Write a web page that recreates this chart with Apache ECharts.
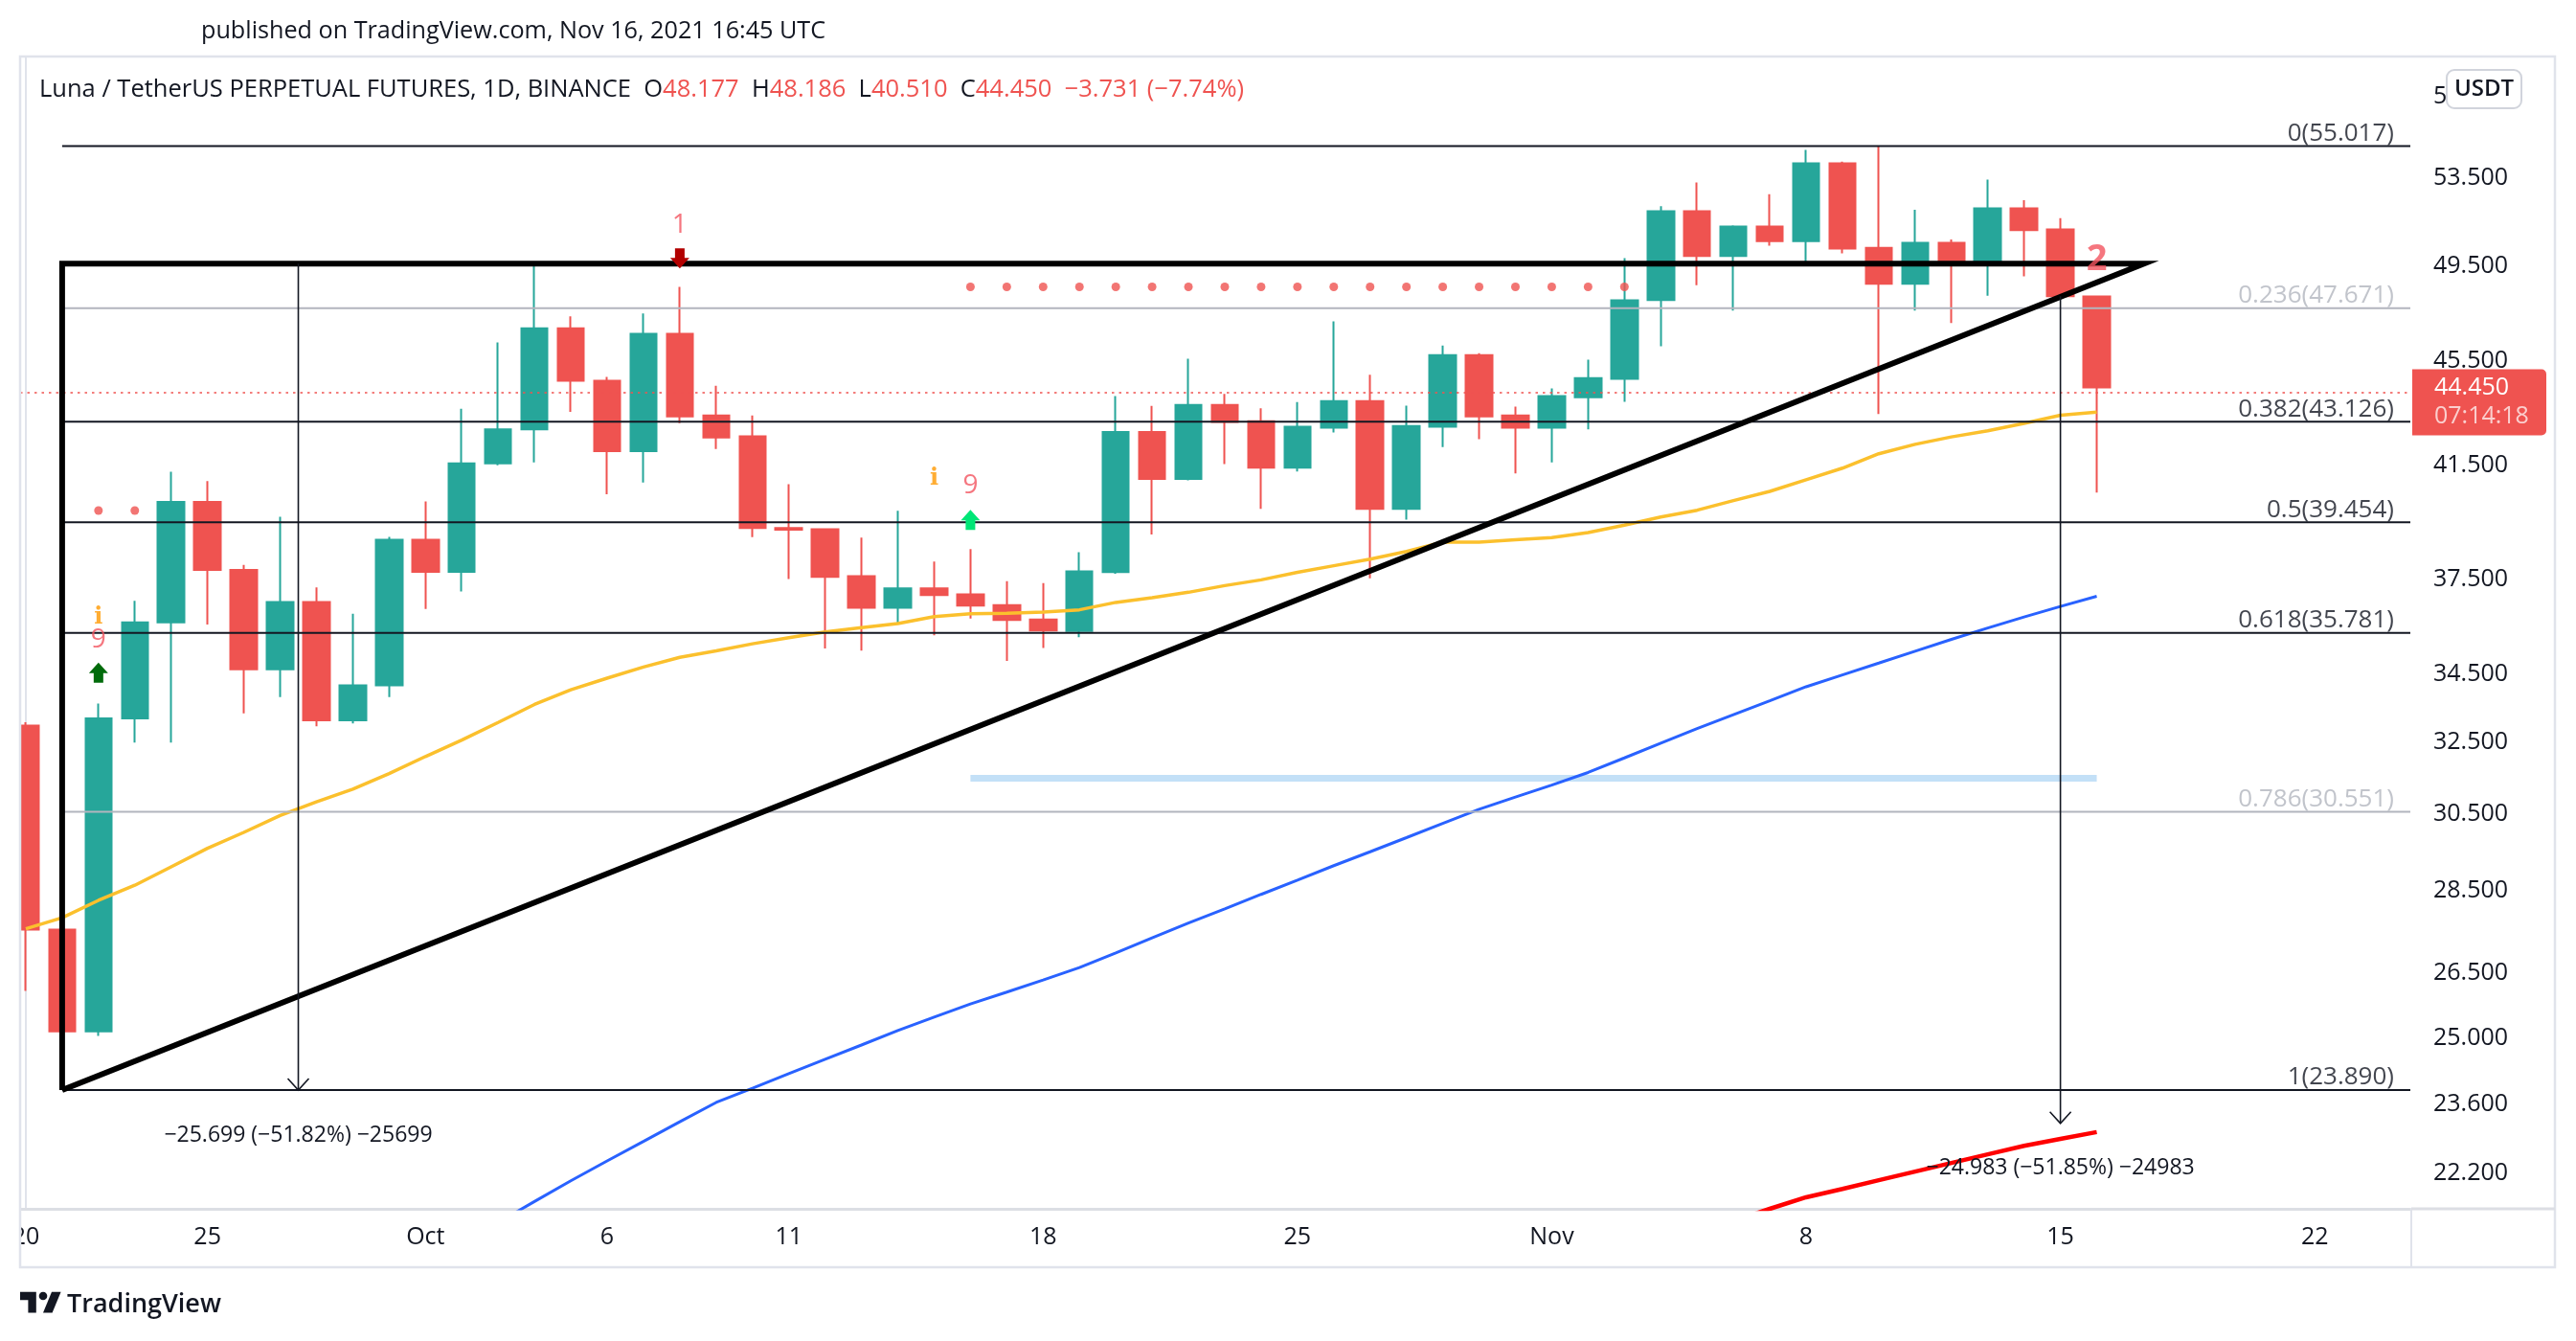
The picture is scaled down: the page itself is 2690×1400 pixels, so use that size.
<!DOCTYPE html>
<html><head><meta charset="utf-8">
<script src="https://cdn.jsdelivr.net/npm/echarts@6/dist/echarts.min.js"></script>
<style>html,body{margin:0;padding:0;background:#fff}#c{width:2690px;height:1400px}</style>
</head><body><div id="c"></div>
<script>
// ---------------- DATA ----------------
const dates = ['2021-09-20','2021-09-21','2021-09-22','2021-09-23','2021-09-24','2021-09-25','2021-09-26','2021-09-27','2021-09-28','2021-09-29','2021-09-30',
 '2021-10-01','2021-10-02','2021-10-03','2021-10-04','2021-10-05','2021-10-06','2021-10-07','2021-10-08','2021-10-09','2021-10-10',
 '2021-10-11','2021-10-12','2021-10-13','2021-10-14','2021-10-15','2021-10-16','2021-10-17','2021-10-18','2021-10-19','2021-10-20',
 '2021-10-21','2021-10-22','2021-10-23','2021-10-24','2021-10-25','2021-10-26','2021-10-27','2021-10-28','2021-10-29','2021-10-30','2021-10-31',
 '2021-11-01','2021-11-02','2021-11-03','2021-11-04','2021-11-05','2021-11-06','2021-11-07','2021-11-08','2021-11-09','2021-11-10',
 '2021-11-11','2021-11-12','2021-11-13','2021-11-14','2021-11-15','2021-11-16'];
const open = [32.97,27.53,25.16,33.18,36.12,40.17,37.83,34.65,36.77,33.12,34.16,
 38.85,37.77,41.57,42.83,46.84,44.71,42.02,46.61,43.36,42.57,
 39.26,39.22,37.62,36.59,37.22,37.02,36.67,36.21,35.84,37.76,
 42.73,41.00,43.77,43.14,41.41,42.90,43.92,39.93,42.93,45.74,43.36,
 42.90,44.07,44.79,48.02,51.94,49.93,51.24,50.59,54.19,50.29,48.72,50.51,49.55,52.07,51.11,48.177];
const high = [33.07,29.54,33.62,36.81,41.26,40.92,38.00,39.65,37.25,36.39,38.95,
 40.19,43.62,46.25,49.56,47.33,44.87,47.45,48.58,44.52,43.36,
 40.81,39.25,38.93,39.86,38.11,38.53,37.46,37.39,38.43,44.11,
 43.73,45.59,44.20,43.64,43.88,47.12,44.95,43.74,46.13,45.82,43.70,
 44.41,45.55,49.83,52.17,53.28,51.30,52.73,54.83,54.27,55.017,52.01,50.66,53.41,52.45,51.62,48.186];
const low = [26.08,23.89,25.06,32.48,32.48,36.05,33.33,33.81,32.95,33.03,33.81,
 36.55,37.12,41.50,41.60,43.50,40.45,40.87,43.07,42.10,38.94,
 37.53,35.29,35.23,36.11,35.71,36.24,34.91,35.31,35.65,37.70,
 39.03,40.95,41.54,39.93,41.27,42.72,37.55,39.55,42.17,42.46,41.20,
 41.60,42.83,43.89,46.10,48.65,47.57,50.38,49.68,50.04,43.42,47.57,47.05,48.20,49.04,48.06,40.51];
const close = [27.53,25.16,33.18,36.12,40.17,37.83,34.65,36.77,33.12,34.16,38.85,
 37.77,41.57,42.83,46.84,44.71,42.02,46.61,43.33,42.53,39.26,
 39.20,37.60,36.59,37.22,37.00,36.66,36.19,35.86,37.78,42.73,
 41.00,43.77,43.12,41.41,42.93,43.92,39.93,42.96,45.74,43.33,42.90,
 44.11,44.82,48.01,51.94,49.93,51.24,50.59,54.19,50.25,48.72,50.51,49.55,52.07,51.08,48.181,44.45];

// moving averages (yellow from first date, blue and red from their start dates)
const maYellow = [27.55,27.82,28.25,28.63,29.10,29.58,30.00,30.45,30.82,31.17,31.60,
 32.08,32.55,33.06,33.59,34.03,34.38,34.72,35.02,35.22,35.44,
 35.63,35.81,35.95,36.08,36.30,36.39,36.41,36.45,36.52,36.76,
 36.91,37.09,37.31,37.50,37.75,37.97,38.19,38.45,38.77,38.77,38.85,
 38.93,39.10,39.36,39.64,39.88,40.22,40.55,40.97,41.39,41.92,42.27,42.55,42.78,43.06,43.37,43.49];
const maBlueStart = '2021-10-02';
const maBlue = [20.86,21.25,21.65,22.05,22.44,22.83,23.23,23.63,23.93,24.24,24.55,24.86,25.18,25.48,25.78,
 26.05,26.33,26.62,26.97,27.33,27.69,28.04,28.40,28.76,29.13,29.49,29.86,30.24,30.62,30.95,
 31.28,31.63,32.04,32.46,32.88,33.29,33.70,34.12,34.48,34.84,35.21,35.58,35.94,36.29,36.63,36.96];
const maRedStart = '2021-11-06';
const maRed = [21.28,21.51,21.73,21.89,22.06,22.23,22.40,22.57,22.74,22.88,23.02];

// axis ticks
const priceTicks = [57.5,53.5,49.5,45.5,41.5,37.5,34.5,32.5,30.5,28.5,26.5,25.0,23.6,22.2];
const tickDates = ['2021-09-20','2021-09-25','2021-10-01','2021-10-06','2021-10-11','2021-10-18','2021-10-25','2021-11-01','2021-11-08','2021-11-15','2021-11-22'];
const tickLabels = ['20','25','Oct','6','11','18','25','Nov','8','15','22'];

// fibonacci retracement
const fibRatios = ['0','0.236','0.382','0.5','0.618','0.786','1'];
const fibPrices = [55.017,47.671,43.126,39.454,35.781,30.551,23.890];
const fibStartDate = '2021-09-21';

// drawings: triangle (date, price)
const triDates = ['2021-09-21','2021-09-21','2021-11-17T07:12','2021-09-21'];
const triPrices = [23.890,49.589,49.589,23.890];
// price range measurements
const measDates = ['2021-09-27T12:00','2021-11-15'];
const measFrom = [49.589,48.181];
const measTo = [23.890,23.198];
const measText = ['\u221225.699 (\u221251.82%) \u221225699','\u221224.983 (\u221251.85%) \u221224983'];
// horizontal light-blue level
const levelDates = ['2021-10-16','2021-11-16'];
const levelPrice = 31.47;

// TD sequential marks
const nineDates = ['2021-09-22','2021-10-16']; const ninePrices = [35.57,40.77];
const infoDates = ['2021-09-22','2021-10-15']; const infoPrices = [36.28,41.01];
const oneDates = ['2021-10-08']; const onePrices = [51.32];
const twoDates = ['2021-11-16']; const twoPrices = [49.75];
const upArrowDates = ['2021-09-22','2021-10-16']; const upArrowPrices = [34.55,39.54];
const downArrowDates = ['2021-10-08']; const downArrowPrices = [49.82];
const resistDotDates = ['2021-10-16','2021-10-17','2021-10-18','2021-10-19','2021-10-20','2021-10-21','2021-10-22','2021-10-23','2021-10-24','2021-10-25',
 '2021-10-26','2021-10-27','2021-10-28','2021-10-29','2021-10-30','2021-10-31','2021-11-01','2021-11-02','2021-11-03'];
const resistDotPrice = 48.58;
const supportDotDates = ['2021-09-22','2021-09-23']; const supportDotPrice = 39.87;

// ---------------- HELPERS ----------------
const L = Math.log;
const T0 = Date.parse(dates[0] + 'T00:00:00Z');
const day = s => (Date.parse((s.length === 10 ? s + 'T00:00:00' : s + ':00') + 'Z') - T0) / 86400000;

// view range (layout)
const X_MIN = -0.157, X_MAX = 65.631;
const Y_MIN = L(21.51), Y_MAX = L(59.50);

const UP = '#26a69a', DOWN = '#ef5350', TXT = '#131722', GRAY = '#b2b5be', BORDER = '#e0e3eb';
const FONT = '"Open Sans", sans-serif';

const tickDays = tickDates.map(day);

const candleData = dates.map((s, i) => [day(s), L(open[i]), L(close[i]), L(low[i]), L(high[i])]);
const yellowData = dates.map((s, i) => [day(s), L(maYellow[i])]);
const blueData = maBlue.map((v, i) => [day(maBlueStart) + i, L(v)]);
const redData = maRed.map((v, i) => [day(maRedStart) + i, L(v)]);

const fibColors = fibRatios.map(r => (r === '0.236' || r === '0.786') ? GRAY : TXT);
const fibSeries = fibPrices.map((p, i) => ({
  type: 'line', silent: true, showSymbol: false, symbol: 'none', z: 5,
  data: [[day(fibStartDate), L(p)], [X_MAX, L(p)]],
  lineStyle: { color: fibColors[i], width: 2 }
}));
const fibLabelSeries = {
  type: 'scatter', silent: true, symbolSize: 0, z: 6, clip: false,
  data: fibPrices.map((p, i) => ({
    value: [X_MAX - 17 / 37.94, L(p)],
    label: { show: true, position: 'left', distance: 0, offset: [0, -13],
      formatter: fibRatios[i] + '(' + p.toFixed(3) + ')', color: fibColors[i],
      fontSize: 26, fontFamily: FONT }
  }))
};

function textSeries(ds, ps, txt, color, size, weight, family) {
  return {
    type: 'scatter', silent: true, symbolSize: 0, z: 8,
    data: ds.map((s, i) => [day(s), L(ps[i])]),
    label: { show: true, position: 'inside', formatter: txt, color: color,
      fontSize: size, fontWeight: weight, fontFamily: family }
  };
}

function arrowSeries(ds, ps, dir, colors) {
  return {
    type: 'custom', silent: true, z: 8,
    data: ds.map((s, i) => [day(s), L(ps[i])]),
    encode: { x: 0, y: 1 },
    renderItem: (params, api) => {
      const c = api.coord([api.value(0), api.value(1)]);
      const k = dir;  // 1 = up, -1 = down
      const pts = [[0, -10.5], [10, 0.5], [5, 0.5], [5, 10.5], [-5, 10.5], [-5, 0.5], [-10, 0.5]]
        .map(p => [c[0] + p[0], c[1] + p[1] * k]);
      return { type: 'polygon', shape: { points: pts }, style: { fill: colors[params.dataIndex] } };
    }
  };
}

const measureSeries = {
  type: 'custom', silent: true, z: 9,
  data: measDates.map((s, i) => [day(s), L(measFrom[i]), L(measTo[i])]),
  encode: { x: 0, y: [1, 2] },
  renderItem: (params, api) => {
    const x = api.value(0);
    const a = api.coord([x, api.value(1)]);
    const b = api.coord([x, api.value(2)]);
    return { type: 'group', children: [
      { type: 'line', shape: { x1: a[0], y1: a[1], x2: b[0], y2: b[1] }, style: { stroke: TXT, lineWidth: 1.6 } },
      { type: 'polyline', shape: { points: [[b[0] - 11, b[1] - 12], [b[0], b[1]], [b[0] + 11, b[1] - 12]] },
        style: { stroke: TXT, lineWidth: 1.6, fill: null } },
      { type: 'text', x: b[0], y: b[1] + 47, style: { text: measText[params.dataIndex], fill: TXT,
        font: '23px ' + FONT, align: 'center', verticalAlign: 'middle' } }
    ]};
  }
};

const chart = echarts.init(document.getElementById('c'), null, { renderer: 'canvas' });

const option = {
  animation: false,
  backgroundColor: '#ffffff',
  grid: { left: 21, right: 173, top: 60, bottom: 138, containLabel: false },
  xAxis: {
    type: 'value', min: X_MIN, max: X_MAX,
    splitLine: { show: false },
    axisLine: { show: true, lineStyle: { color: '#dcdee4', width: 3 } },
    axisTick: { show: false },
    axisLabel: { customValues: tickDays, formatter: v => tickLabels[tickDays.indexOf(v)],
      color: TXT, fontSize: 25, fontFamily: FONT, margin: 17 }
  },
  yAxis: {
    type: 'value', position: 'right', min: Y_MIN, max: Y_MAX,
    splitLine: { show: false },
    axisLine: { show: true, lineStyle: { color: BORDER, width: 2 } },
    axisTick: { show: false },
    axisLabel: { customValues: priceTicks.map(L), formatter: v => Math.exp(v).toFixed(3),
      color: TXT, fontSize: 25, fontFamily: FONT, align: 'left', margin: 24 }
  },
  series: [
    {
      type: 'candlestick', name: 'LUNA', clip: true, z: 2,
      data: candleData, encode: { x: 0, y: [1, 2, 3, 4] },
      barWidth: 28,
      itemStyle: { color: UP, color0: DOWN, borderColor: UP, borderColor0: DOWN, borderWidth: 2 },
      markLine: {
        silent: true, symbol: 'none', label: { show: false },
        lineStyle: { color: DOWN, width: 1.5, type: [2.5, 5] },
        data: [{ yAxis: L(close[close.length - 1]) }]
      }
    },
    { type: 'line', silent: true, symbol: 'none', z: 3,
      data: levelDates.map(s => [day(s), L(levelPrice)]),
      lineStyle: { color: '#c3e0f7', width: 7 } },
    { type: 'line', silent: true, symbol: 'none', z: 4, data: yellowData,
      lineStyle: { color: '#fbc02d', width: 3.5 } },
    { type: 'line', silent: true, symbol: 'none', z: 4, data: blueData,
      lineStyle: { color: '#2962ff', width: 3 } },
    { type: 'line', silent: true, symbol: 'none', z: 4, data: redData,
      lineStyle: { color: '#ff0000', width: 4.5 } },
    ...fibSeries,
    fibLabelSeries,
    { type: 'line', silent: true, symbol: 'none', z: 7,
      data: triDates.map((s, i) => [day(s), L(triPrices[i])]),
      lineStyle: { color: '#000000', width: 6, join: 'miter', miterLimit: 30 } },
    measureSeries,
    { type: 'scatter', silent: true, symbol: 'circle', symbolSize: 9, z: 8,
      itemStyle: { color: DOWN },
      data: resistDotDates.map(s => [day(s), L(resistDotPrice)]).concat(supportDotDates.map(s => [day(s), L(supportDotPrice)])) },
    textSeries(nineDates, ninePrices, '9', '#f2545f', 28, 'normal', FONT),
    textSeries(oneDates, onePrices, '1', '#f2545f', 28, 'normal', FONT),
    textSeries(twoDates, twoPrices, '2', '#f2545f', 38, 'bold', FONT),
    textSeries(infoDates, infoPrices, 'i', '#ff9800', 24, 'bold', '"DejaVu Serif", serif'),
    arrowSeries(upArrowDates, upArrowPrices, 1, ['#006b0b', '#00e676']),
    arrowSeries(downArrowDates, downArrowPrices, -1, ['#b20000'])
  ]
};
chart.setOption(option);

// chrome & price badge
const lastPrice = close[close.length - 1];
const py = chart.convertToPixel({ yAxisIndex: 0 }, L(lastPrice));
const s = 1.2, ox = 21, oy = 1344;
const tv = pts => pts.map(p => [ox + p[0] * s, oy + p[1] * s]);
chart.setOption({
  graphic: [
    { type: 'rect', z: 49, shape: { x: 0, y: 56, width: 20, height: 1268 }, style: { fill: '#ffffff' } },
    { type: 'rect', z: 50, shape: { x: 21, y: 59, width: 2647, height: 1264 }, style: { fill: null, stroke: BORDER, lineWidth: 2.5 } },
    { type: 'line', z: 50, shape: { x1: 2518, y1: 1262, x2: 2518, y2: 1323 }, style: { stroke: BORDER, lineWidth: 2 } },
    { type: 'line', z: 50, shape: { x1: 2518, y1: 1262, x2: 2668, y2: 1262 }, style: { stroke: '#dcdee4', lineWidth: 3 } },
    { type: 'text', z: 50, x: 210, y: 33, style: { text: 'published on TradingView.com, Nov 16, 2021 16:45 UTC',
      fill: TXT, font: '25.2px ' + FONT, verticalAlign: 'middle' } },
    { type: 'text', z: 50, x: 41, y: 94, style: {
      text: '{d|Luna / TetherUS PERPETUAL FUTURES, 1D, BINANCE  O}{r|48.177}{d|  H}{r|48.186}{d|  L}{r|40.510}{d|  C}{r|44.450}{r|  \u22123.731 (\u22127.74%)}',
      verticalAlign: 'middle',
      rich: { d: { fill: TXT, fontSize: 25.5, fontFamily: FONT }, r: { fill: DOWN, fontSize: 25.5, fontFamily: FONT } } } },
    { type: 'rect', z: 60, shape: { x: 2555, y: 73, width: 78, height: 40, r: 8 }, style: { fill: '#ffffff', stroke: '#d1d4dc', lineWidth: 2 } },
    { type: 'text', z: 61, x: 2594, y: 93, style: { text: 'USDT', fill: TXT, font: '600 24px ' + FONT, align: 'center', verticalAlign: 'middle' } },
    { type: 'rect', z: 60, shape: { x: 2519, y: py - 19, width: 140, height: 69, r: [0, 5, 5, 0] }, style: { fill: DOWN } },
    { type: 'text', z: 61, x: 2542, y: py, style: { text: lastPrice.toFixed(3), fill: '#ffffff', font: '25px ' + FONT, verticalAlign: 'middle' } },
    { type: 'text', z: 61, x: 2542, y: py + 30, style: { text: '07:14:18', fill: 'rgba(255,255,255,0.72)', font: '25px ' + FONT, verticalAlign: 'middle' } },
    { type: 'polygon', z: 50, shape: { points: tv([[0,4],[14,4],[14,22],[7,22],[7,11],[0,11]]) }, style: { fill: TXT } },
    { type: 'circle', z: 50, shape: { cx: ox + 20 * s, cy: oy + 7.5 * s, r: 3.6 * s }, style: { fill: TXT } },
    { type: 'polygon', z: 50, shape: { points: tv([[20,22],[27.5,4],[35.5,4],[28,22]]) }, style: { fill: TXT } },
    { type: 'text', z: 50, x: 70, y: 1362, style: { text: 'TradingView', fill: TXT, font: '600 27px ' + FONT, verticalAlign: 'middle' } }
  ]
});
</script>
</body></html>
